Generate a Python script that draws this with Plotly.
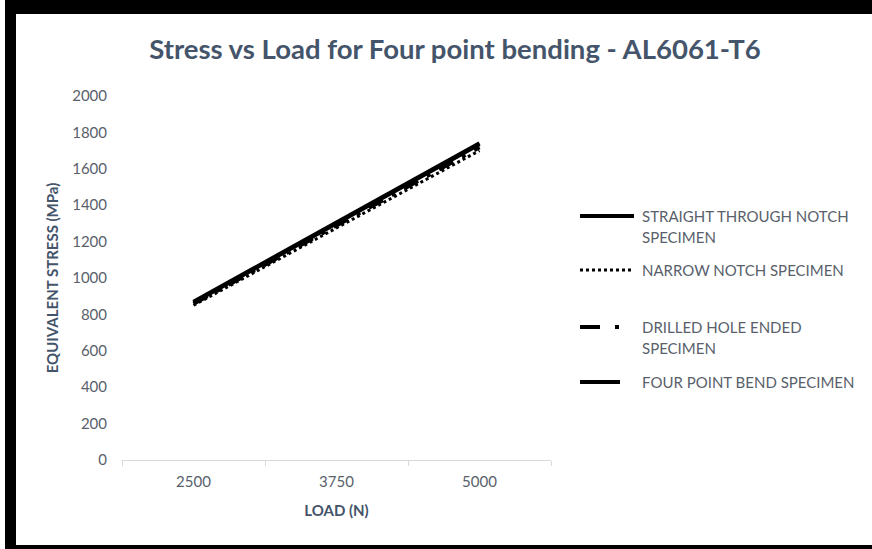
import plotly.graph_objects as go

# Load cases (N) and equivalent stress results (MPa)
loads = ["2500", "3750", "5000"]
straight_notch = [865, 1300, 1735]
narrow_notch = [850, 1275, 1700]
drilled_hole = [858, 1288, 1718]
four_point = [870, 1305, 1740]

series_names = [
    "STRAIGHT THROUGH NOTCH SPECIMEN",
    "NARROW NOTCH SPECIMEN",
    "DRILLED HOLE ENDED SPECIMEN",
    "FOUR POINT BEND SPECIMEN",
]
series_values = [straight_notch, narrow_notch, drilled_hole, four_point]
series_dash = ["solid", "dot", "16px,10px,4px,10px", "solid"]
series_width = [4, 3, 4, 4]

W, H = 872, 549
L, R, T, B = 122, 321, 96, 89
PW, PH = W - L - R, H - T - B

def px(x):
    return (x - L) / PW

def py(y):
    return (H - B - y) / PH

TEXT = "#44546a"
TICK = "#595f6b"
FONT = "Lato"

fig = go.Figure()
for name, vals, dash, wd in zip(series_names, series_values, series_dash, series_width):
    fig.add_trace(go.Scatter(
        x=loads, y=vals, mode="lines", name=name,
        line=dict(color="black", width=wd, dash=dash),
        showlegend=False,
    ))

shapes = []
annotations = []

# hand-built legend on the right: sample line, then wrapped label lines
legend_samples = [
    (216, 580, 634, "solid", 4),
    (270, 580, 634, "dot", 3),
    (327, 580, 621, "20px,15px,4px,60px", 4),
    (382, 580, 620, "solid", 4),
]
legend_lines = [
    [("STRAIGHT THROUGH NOTCH", 640, 216), ("SPECIMEN", 640, 237)],
    [("NARROW NOTCH SPECIMEN", 640, 270)],
    [("DRILLED HOLE ENDED", 640, 327), ("SPECIMEN", 640, 348)],
    [("FOUR POINT BEND SPECIMEN", 640, 382)],
]
for (yy, x0, x1, dash, wd), lines in zip(legend_samples, legend_lines):
    shapes.append(dict(type="line", xref="paper", yref="paper",
                       x0=px(x0), x1=px(x1), y0=py(yy), y1=py(yy),
                       line=dict(color="black", width=wd, dash=dash)))
    for txt, tx, ty in lines:
        annotations.append(dict(xref="paper", yref="paper", x=px(tx), y=py(ty),
                                xanchor="left", yanchor="middle", align="left",
                                showarrow=False, text=txt,
                                font=dict(family=FONT, size=15, color=TICK)))

# frame around the chart
for x0, y0, x1, y1 in [(5, 0, 16, 549), (5, 0, 872, 14), (5, 545, 872, 549)]:
    shapes.append(dict(type="rect", xref="paper", yref="paper",
                       x0=px(x0), x1=px(x1), y0=py(y0), y1=py(y1),
                       fillcolor="black", line=dict(width=0), layer="above"))

fig.update_layout(
    width=W, height=H,
    margin=dict(l=L, r=R, t=T, b=B),
    paper_bgcolor="white", plot_bgcolor="white",
    title=dict(text="<b>Stress vs Load for Four point bending - AL6061-T6</b>",
               xref="container", yref="container",
               x=455 / W, xanchor="center", y=1 - 49 / H, yanchor="middle",
               font=dict(family=FONT, size=27.5, color=TEXT)),
    xaxis=dict(type="category", range=[-0.5, 2.5],
               showline=True, linecolor="#d9d9d9", linewidth=1,
               ticks="outside", tickson="boundaries", ticklen=5, tickcolor="#d9d9d9",
               showgrid=False, zeroline=False, ticklabelstandoff=8,
               tickfont=dict(family=FONT, size=15, color=TICK),
               title=dict(text="<b>LOAD (N)</b>", standoff=16,
                          font=dict(family=FONT, size=15, color=TEXT))),
    yaxis=dict(range=[0, 2000], dtick=200, showgrid=False, zeroline=False,
               showline=False, ticks="", ticklabelstandoff=14,
               tickfont=dict(family=FONT, size=15, color=TICK),
               title=dict(text="<b>EQUIVALENT STRESS (MPa)</b>", standoff=9,
                          font=dict(family=FONT, size=15, color=TEXT))),
    shapes=shapes,
    annotations=annotations,
)

fig.write_html("out.html")
